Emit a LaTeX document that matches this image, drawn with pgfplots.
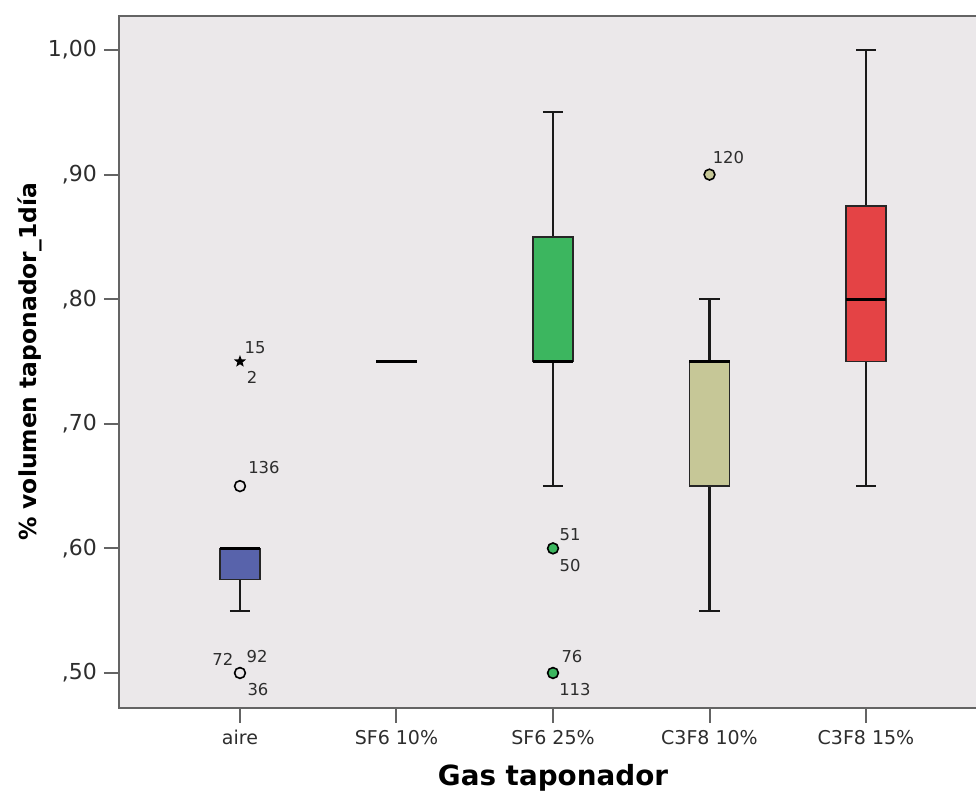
\documentclass[border=0pt]{standalone}
\usepackage{fontspec}
\setmainfont{DejaVu Sans}
\usepackage{pgfplots}
\pgfplotsset{compat=1.18}

\definecolor{bggray}{RGB}{235,232,234}
\definecolor{framegray}{RGB}{100,100,100}
\definecolor{boxblue}{RGB}{88,99,171}
\definecolor{boxgreen}{RGB}{60,182,95}
\definecolor{boxtan}{RGB}{198,199,151}
\definecolor{boxred}{RGB}{228,67,69}
\definecolor{labgray}{RGB}{45,45,45}

\pgfdeclareplotmark{fivestar}{%
  \pgfpathmoveto{\pgfqpointpolar{90}{\pgfplotmarksize}}%
  \pgfpathlineto{\pgfqpointpolar{126}{0.42\pgfplotmarksize}}%
  \pgfpathlineto{\pgfqpointpolar{162}{\pgfplotmarksize}}%
  \pgfpathlineto{\pgfqpointpolar{198}{0.42\pgfplotmarksize}}%
  \pgfpathlineto{\pgfqpointpolar{234}{\pgfplotmarksize}}%
  \pgfpathlineto{\pgfqpointpolar{270}{0.42\pgfplotmarksize}}%
  \pgfpathlineto{\pgfqpointpolar{306}{\pgfplotmarksize}}%
  \pgfpathlineto{\pgfqpointpolar{342}{0.42\pgfplotmarksize}}%
  \pgfpathlineto{\pgfqpointpolar{18}{\pgfplotmarksize}}%
  \pgfpathlineto{\pgfqpointpolar{54}{0.42\pgfplotmarksize}}%
  \pgfpathclose
  \pgfusepathqfill
}

% #1 position, #2 lower whisker, #3 lower quartile, #4 median,
% #5 upper quartile, #6 upper whisker, #7 fill colour, #8 whisker line width
\newcommand{\spssbox}[8]{%
  \addplot[draw=black!90, line width=#8, forget plot] coordinates {(#1,#3) (#1,#2)};
  \addplot[draw=black!90, line width=#8, forget plot] coordinates {({#1-0.064},#2) ({#1+0.064},#2)};
  \addplot[draw=black!90, line width=#8, forget plot] coordinates {(#1,#5) (#1,#6)};
  \addplot[draw=black!90, line width=#8, forget plot] coordinates {({#1-0.064},#6) ({#1+0.064},#6)};
  \addplot[fill=#7, draw=black!85, line width=0.75pt, forget plot] coordinates
    {({#1-0.128},#3) ({#1+0.128},#3) ({#1+0.128},#5) ({#1-0.128},#5) ({#1-0.128},#3)} -- cycle;
  \addplot[draw=black, line width=1.7pt, forget plot] coordinates {({#1-0.128},#4) ({#1+0.128},#4)};
}

\begin{document}
\begin{tikzpicture}
\begin{axis}[
  at={(0,0)}, anchor=south west,
  scale only axis,
  width=434pt, height=346pt,
  xmin=-0.773, xmax=4.773,
  ymin=0.4719, ymax=1.0273,
  clip=false,
  axis background/.style={fill=bggray},
  axis line style={draw=framegray, line width=1pt},
  tick align=outside,
  xtick pos=bottom, ytick pos=left,
  major tick length=7.5pt,
  tick style={draw=framegray, line width=1pt},
  xtick={0,1,2,3,4},
  xticklabels={aire, SF6 10\%, SF6 25\%, C3F8 10\%, C3F8 15\%},
  ytick={0.5,0.6,0.7,0.8,0.9,1.0},
  yticklabels={{,50},{,60},{,70},{,80},{,90},{1,00}},
  xticklabel style={font=\fontsize{9.5}{11}\selectfont, text=labgray},
  yticklabel style={font=\fontsize{11}{13}\selectfont, text=labgray},
  every axis x label/.style={at={(axis description cs:0.5,-0.1127)}, anchor=base},
  every axis y label/.style={at={(axis description cs:-0.0945,0.5)}, rotate=90, anchor=base},
  xlabel={\fontsize{13.9}{16}\selectfont\bfseries Gas taponador},
  ylabel={\fontsize{11.7}{14}\selectfont\bfseries \% volumen taponador\_1día},
]
% boxes: position, lower whisker, Q1, median, Q3, upper whisker
\spssbox{0}{0.55}{0.575}{0.60}{0.60}{0.60}{boxblue}{1.05pt}
\spssbox{1}{0.75}{0.75}{0.75}{0.75}{0.75}{black}{1.05pt}
\spssbox{2}{0.65}{0.75}{0.75}{0.85}{0.95}{boxgreen}{1.05pt}
\spssbox{3}{0.55}{0.65}{0.75}{0.75}{0.80}{boxtan}{1.05pt}
\spssbox{4}{0.65}{0.75}{0.80}{0.875}{1.00}{boxred}{0.65pt}

% outliers
\addplot[only marks, mark=*, mark size=2.7pt, mark options={fill=bggray, draw=black, line width=0.8pt}]
  coordinates {(0,0.65) (0,0.50)};
\addplot[only marks, mark=fivestar, mark size=3.2pt, mark options={fill=black}]
  coordinates {(0,0.75)};
\addplot[only marks, mark=*, mark size=2.7pt, mark options={fill=boxgreen, draw=black, line width=0.8pt}]
  coordinates {(2,0.60) (2,0.50)};
\addplot[only marks, mark=*, mark size=2.7pt, mark options={fill=boxtan, draw=black, line width=0.8pt}]
  coordinates {(3,0.90)};

% outlier case labels
\begin{scope}[every node/.style={font=\fontsize{8.2}{9}\selectfont, text=labgray, inner sep=0pt}]
\node at (axis cs:0.096,0.761) {15};
\node at (axis cs:0.077,0.737) {2};
\node at (axis cs:0.153,0.6645) {136};
\node at (axis cs:-0.109,0.511) {72};
\node at (axis cs:0.109,0.5136) {92};
\node at (axis cs:0.115,0.487) {36};
\node at (axis cs:2.109,0.611) {51};
\node at (axis cs:2.109,0.586) {50};
\node at (axis cs:2.121,0.5136) {76};
\node at (axis cs:2.14,0.487) {113};
\node at (axis cs:3.121,0.914) {120};
\end{scope}
\end{axis}
\pgfresetboundingbox
\path[use as bounding box] (-59.5pt,-42.5pt) rectangle (428.5pt,354pt);
\end{tikzpicture}
\end{document}
